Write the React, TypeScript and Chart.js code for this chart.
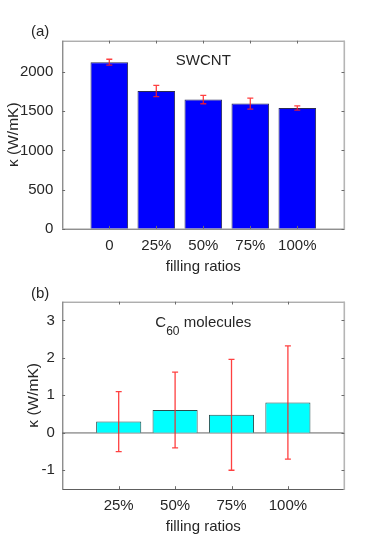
import React, { useEffect, useRef } from 'react';
import { Chart, registerables } from 'chart.js';

Chart.register(...registerables);

// ---- data ----
const catsA = ['0', '25%', '50%', '75%', '100%'];
const valsA = [2125, 1758, 1648, 1597, 1541];
const errA = [38, 72, 53, 70, 27];
const yTicksA = [0, 500, 1000, 1500, 2000];

const catsB = ['25%', '50%', '75%', '100%'];
const valsB = [0.3, 0.61, 0.48, 0.81];
const errB = [0.8, 1.01, 1.48, 1.51];
const yTicksB = [-1, 0, 1, 2, 3];

const FONT = "'Liberation Sans', Arial, Helvetica, sans-serif";
const TXT = '#262626';

type PanelOpts = {
  cats: string[];
  vals: number[];
  errs: number[];
  yTicks: number[];
  yMin: number;
  yMax: number;
  fill: string;
  edge: string;
  panel: string;
  panelY: number;
  note: 'swcnt' | 'c60';
  ylabelX: number;
  yPad: number;
  zeroLine: boolean;
  height: number;
  areaTop: number;
  areaBottom: number;
};

function makePlugin(o: PanelOpts) {
  return {
    id: 'decor',
    beforeDatasetsDraw(chart: any) {
      if (!o.zeroLine) return;
      const { ctx, chartArea: a, scales } = chart;
      const y0 = scales.y.getPixelForValue(0);
      ctx.save();
      ctx.strokeStyle = '#a6a6a6';
      ctx.lineWidth = 1.8;
      ctx.beginPath();
      ctx.moveTo(a.left, y0);
      ctx.lineTo(a.right, y0);
      ctx.stroke();
      ctx.restore();
    },
    afterDatasetsDraw(chart: any) {
      const { ctx, chartArea: a, scales } = chart;
      const xs = scales.x;
      const ys = scales.y;
      ctx.save();
      // error bars
      ctx.strokeStyle = 'rgba(255,30,30,0.85)';
      ctx.lineWidth = 1.3;
      o.vals.forEach((v, i) => {
        const x = xs.getPixelForValue(i + 1);
        const yt = ys.getPixelForValue(v + o.errs[i]);
        const yb = ys.getPixelForValue(v - o.errs[i]);
        ctx.beginPath();
        ctx.moveTo(x, yt);
        ctx.lineTo(x, yb);
        ctx.moveTo(x - 3, yt);
        ctx.lineTo(x + 3, yt);
        ctx.moveTo(x - 3, yb);
        ctx.lineTo(x + 3, yb);
        ctx.stroke();
      });
      // box
      ctx.lineWidth = 1;
      ctx.strokeStyle = '#5e5e5e';
      ctx.beginPath();
      ctx.moveTo(a.left + 0.5, a.top);
      ctx.lineTo(a.left + 0.5, a.bottom);
      ctx.moveTo(a.left, a.bottom + 0.5);
      ctx.lineTo(a.right, a.bottom + 0.5);
      ctx.stroke();
      ctx.strokeStyle = '#8a8a8a';
      ctx.beginPath();
      ctx.moveTo(a.left, a.top + 0.5);
      ctx.lineTo(a.right + 0.5, a.top + 0.5);
      ctx.stroke();
      ctx.strokeStyle = '#b5b5b5';
      ctx.lineWidth = 1.6;
      ctx.beginPath();
      ctx.moveTo(a.right, a.top);
      ctx.lineTo(a.right, a.bottom + 1);
      ctx.stroke();
      // inward ticks
      ctx.strokeStyle = '#6a6a6a';
      ctx.lineWidth = 1;
      const tl = 2.8;
      ys.ticks.forEach((t: any) => {
        const y = Math.round(ys.getPixelForValue(t.value)) + 0.5;
        ctx.beginPath();
        ctx.moveTo(a.left, y);
        ctx.lineTo(a.left + tl, y);
        ctx.moveTo(a.right, y);
        ctx.lineTo(a.right - tl, y);
        ctx.stroke();
      });
      xs.ticks.forEach((t: any) => {
        const x = Math.round(xs.getPixelForValue(t.value)) + 0.5;
        ctx.beginPath();
        ctx.moveTo(x, a.top);
        ctx.lineTo(x, a.top + tl);
        ctx.moveTo(x, a.bottom);
        ctx.lineTo(x, a.bottom - tl);
        ctx.stroke();
      });
      // texts
      ctx.fillStyle = TXT;
      ctx.textBaseline = 'middle';
      ctx.font = `15px ${FONT}`;
      ctx.textAlign = 'left';
      ctx.fillText(o.panel, 31, o.panelY);
      const cx = (a.left + a.right) / 2;
      ctx.textAlign = 'center';
      ctx.font = `15px ${FONT}`;
      ctx.fillText('filling ratios', cx, a.bottom + 38);
      if (o.note === 'swcnt') {
        ctx.font = `15px ${FONT}`;
        ctx.fillText('SWCNT', cx, a.top + 20.5);
      } else {
        ctx.font = `15px ${FONT}`;
        const wC = ctx.measureText('C').width;
        const wM = ctx.measureText(' molecules').width;
        ctx.font = `12px ${FONT}`;
        const wS = ctx.measureText('60').width;
        const total = wC + wS + wM;
        let x = cx - total / 2;
        const yb = a.top + 21.5;
        ctx.textAlign = 'left';
        ctx.font = `15px ${FONT}`;
        ctx.fillText('C', x, yb);
        x += wC;
        ctx.font = `12px ${FONT}`;
        ctx.fillText('60', x, yb + 8.5);
        x += wS;
        ctx.font = `15px ${FONT}`;
        ctx.fillText(' molecules', x, yb);
      }
      // y title
      ctx.save();
      ctx.translate(o.ylabelX, (a.top + a.bottom) / 2);
      ctx.rotate(-Math.PI / 2);
      ctx.textAlign = 'center';
      ctx.font = `15.5px ${FONT}`;
      ctx.fillText('\u03BA (W/mK)', 0, 0);
      ctx.restore();
      ctx.restore();
    },
  };
}

function makeConfig(o: PanelOpts): any {
  return {
    type: 'bar',
    data: {
      datasets: [
        {
          data: o.vals.map((v, i) => ({ x: i + 1, y: v })),
          backgroundColor: o.fill,
          borderColor: o.edge,
          borderWidth: 1,
          barPercentage: 0.8,
          categoryPercentage: 1,
        },
      ],
    },
    options: {
      responsive: false,
      animation: false,
      devicePixelRatio: 1,
      layout: { padding: { left: 0, right: 382 - 344.3, top: o.areaTop, bottom: 0 } },
      plugins: { legend: { display: false }, tooltip: { enabled: false } },
      scales: {
        x: {
          type: 'linear',
          min: 0,
          max: o.cats.length + 1,
          offset: false,
          grid: { display: false, drawTicks: false, offset: false },
          border: { display: false },
          afterBuildTicks: (s: any) => {
            s.ticks = o.cats.map((_, i) => ({ value: i + 1 }));
          },
          afterFit: (s: any) => {
            s.height = o.height - o.areaBottom;
          },
          ticks: {
            autoSkip: false,
            maxRotation: 0,
            padding: 8,
            color: TXT,
            font: { family: FONT, size: 15 },
            callback: (v: number) => o.cats[v - 1] ?? '',
          },
        },
        y: {
          type: 'linear',
          min: o.yMin,
          max: o.yMax,
          grid: { display: false, drawTicks: false },
          border: { display: false },
          afterBuildTicks: (s: any) => {
            s.ticks = o.yTicks.map((v) => ({ value: v }));
          },
          afterFit: (s: any) => {
            s.width = 62.3;
          },
          ticks: {
            padding: o.yPad,
            color: TXT,
            font: { family: FONT, size: 15 },
            callback: (v: number) => String(v),
          },
        },
      },
    },
    plugins: [makePlugin(o)],
  };
}

function Panel({ o, top }: { o: PanelOpts; top: number }) {
  const ref = useRef<HTMLCanvasElement | null>(null);
  useEffect(() => {
    if (!ref.current) return;
    const chart = new Chart(ref.current, makeConfig(o));
    return () => chart.destroy();
  }, []);
  return (
    <canvas
      ref={ref}
      width={382}
      height={o.height}
      style={{ position: 'absolute', left: 0, top, width: 382, height: o.height }}
    />
  );
}

const panelA: PanelOpts = {
  cats: catsA,
  vals: valsA,
  errs: errA,
  yTicks: yTicksA,
  yMin: 0,
  yMax: 2400,
  fill: '#0000ff',
  edge: '#2b2b55',
  panel: '(a)',
  panelY: 32,
  note: 'swcnt',
  ylabelX: 14,
  yPad: 9,
  zeroLine: false,
  height: 275,
  areaTop: 40.7,
  areaBottom: 228.7,
};

const panelB: PanelOpts = {
  cats: catsB,
  vals: valsB,
  errs: errB,
  yTicks: yTicksB,
  yMin: -1.5,
  yMax: 3.5,
  fill: '#00ffff',
  edge: '#2a4d4d',
  panel: '(b)',
  panelY: 19,
  note: 'c60',
  ylabelX: 34,
  yPad: 7.5,
  zeroLine: true,
  height: 275,
  areaTop: 26.7,
  areaBottom: 214,
};

export default function App() {
  return (
    <div style={{ position: 'fixed', left: 0, top: 0, width: 382, height: 550, background: '#fff' }}>
      <Panel o={panelA} top={0} />
      <Panel o={panelB} top={275} />
    </div>
  );
}
